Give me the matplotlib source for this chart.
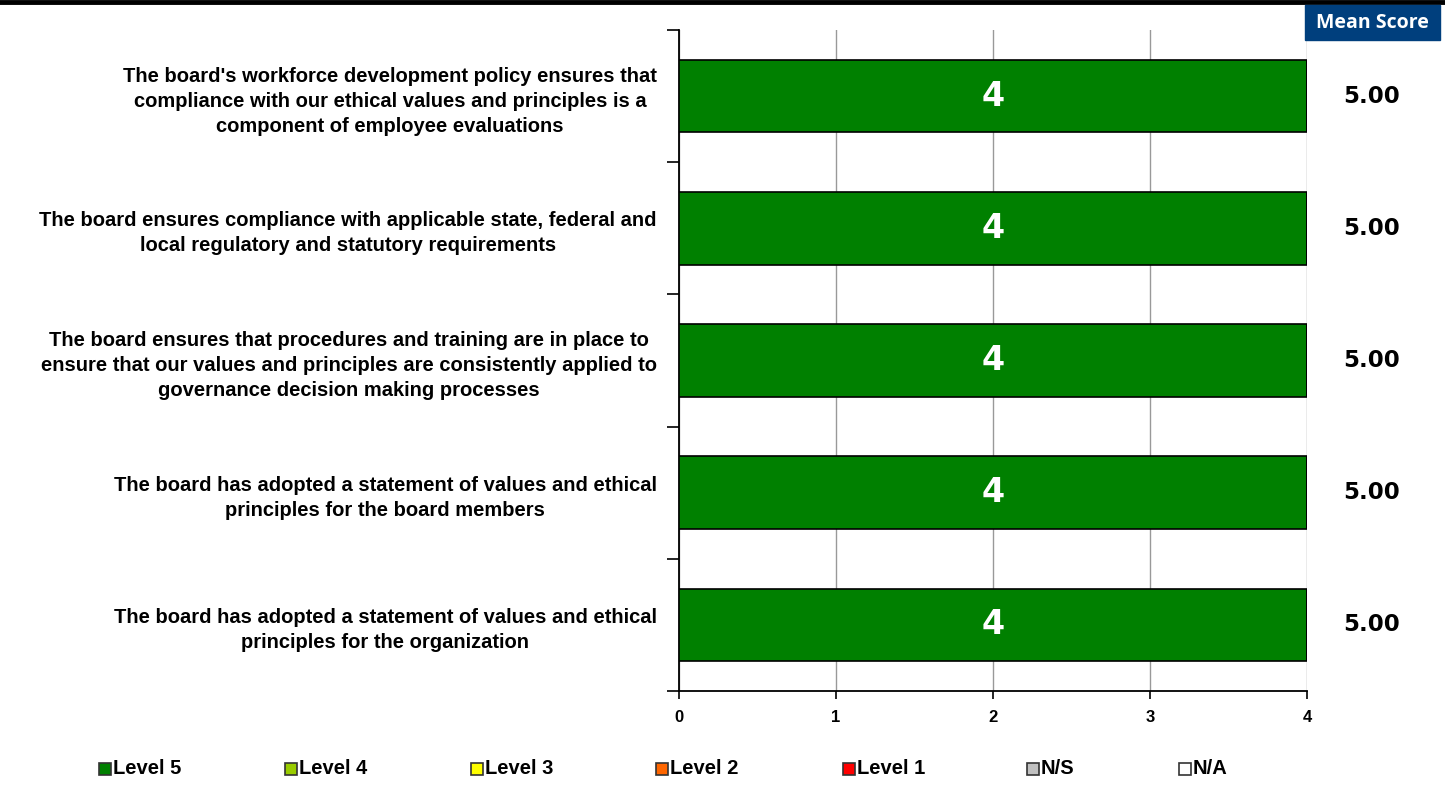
import matplotlib.pyplot as plt
import numpy as np
from matplotlib.lines import Line2D
from matplotlib.patches import Rectangle

statements = [
    "The board's workforce development policy ensures that\ncompliance with our ethical values and principles is a\ncomponent of employee evaluations",
    "The board ensures compliance with applicable state, federal and\nlocal regulatory and statutory requirements",
    "The board ensures that procedures and training are in place to\nensure that our values and principles are consistently applied to\ngovernance decision making processes",
    "The board has adopted a statement of values and ethical\nprinciples for the board members",
    "The board has adopted a statement of values and ethical\nprinciples for the organization",
]
levels = ['Level 5', 'Level 4', 'Level 3', 'Level 2', 'Level 1', 'N/S', 'N/A']
level_colors = ['#008000', '#99cc00', '#ffff00', '#ff6600', '#ff0000', '#c0c0c0', '#ffffff']
# counts per level (rows = statements, cols = levels)
counts = [
    [4, 0, 0, 0, 0, 0, 0],
    [4, 0, 0, 0, 0, 0, 0],
    [4, 0, 0, 0, 0, 0, 0],
    [4, 0, 0, 0, 0, 0, 0],
    [4, 0, 0, 0, 0, 0, 0],
]
mean_scores = [5.00, 5.00, 5.00, 5.00, 5.00]

label_font = ['Liberation Sans', 'DejaVu Sans']

fig = plt.figure(figsize=(14.45, 7.87), dpi=100)
ax = fig.add_axes([0.470, 0.122, 0.4345, 0.840])

n = len(statements)
ypos = np.arange(n)[::-1]
counts = np.array(counts)
left = np.zeros(n)
for j, lev in enumerate(levels):
    vals = counts[:, j]
    bars = ax.barh(ypos, vals, left=left, height=0.55, color=level_colors[j],
                   edgecolor='black', linewidth=1.2, zorder=3)
    for b, v in zip(bars, vals):
        if v > 0:
            ax.text(b.get_x() + b.get_width() / 2, b.get_y() + b.get_height() / 2,
                    str(v), ha='center', va='center', color='white',
                    fontsize=24, fontweight='bold', family='DejaVu Sans', zorder=4)
    left = left + vals

ax.set_xlim(0, 4)
ax.set_ylim(-0.5, n - 0.5)
ax.set_xticks([0, 1, 2, 3, 4])
ax.set_xticklabels(['0', '1', '2', '3', '4'], fontsize=12, fontweight='bold', family=label_font)
ax.grid(axis='x', color='#999999', linewidth=1, zorder=0)
ax.set_axisbelow(True)

ax.set_yticks(ypos)
ax.set_yticklabels(statements, fontsize=14.5, fontweight='bold', family=label_font,
                   multialignment='center', linespacing=1.4)
ax.tick_params(axis='y', which='major', length=0, pad=16)
ax.set_yticks(np.arange(-0.5, n), minor=True)
ax.tick_params(axis='y', which='minor', length=9, width=1.2, color='black')
ax.tick_params(axis='x', length=6, width=1.2, pad=8)

for s in ['top', 'right']:
    ax.spines[s].set_visible(False)
for s in ['left', 'bottom']:
    ax.spines[s].set_linewidth(1.3)

# mean scores column
fig.patches.append(Rectangle((1305 / 1445, 1 - 40 / 787), 135 / 1445, 35 / 787,
                             transform=fig.transFigure, color='#003f7d', zorder=5))
fig.text(1372 / 1445, 1 - 23 / 787, 'Mean Score', ha='center', va='center',
         color='white', fontsize=14, fontweight='bold', family='Open Sans', zorder=6)
for y, m in zip(ypos, mean_scores):
    ax.text(1.103, y, f'{m:.2f}', transform=ax.get_yaxis_transform(),
            ha='center', va='center', fontsize=16.5, fontweight='bold', family='DejaVu Sans')

# top rule
fig.add_artist(Line2D([0, 1], [1 - 2 / 787, 1 - 2 / 787], transform=fig.transFigure,
                      color='black', linewidth=3.5))

# legend
leg_x = [105, 291, 477, 662, 849, 1033, 1185]
leg_y = 1 - 769 / 787
for x, lab, col in zip(leg_x, levels, level_colors):
    fig.patches.append(Rectangle(((x - 6) / 1445, leg_y - 6 / 787), 12 / 1445, 12 / 787,
                                 transform=fig.transFigure, facecolor=col,
                                 edgecolor='#333333', linewidth=1.2))
    fig.text((x + 8) / 1445, leg_y, lab, ha='left', va='center', fontsize=14.5,
             fontweight='bold', family=label_font)

fig.savefig('out.png', dpi=100)
